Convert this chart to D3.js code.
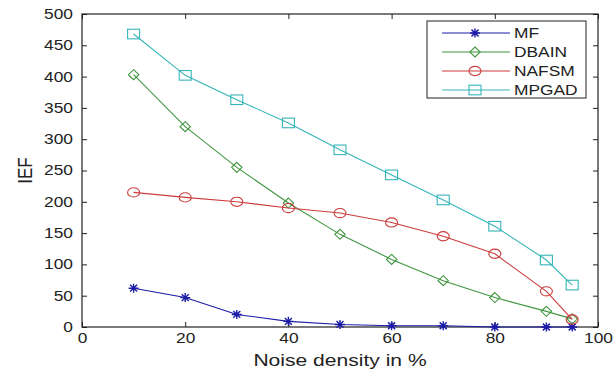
<!DOCTYPE html>
<html><head><meta charset="utf-8">
<script src="https://d3js.org/d3.v7.min.js"></script>
<style>body{margin:0;background:#fff;}svg{display:block;font-family:"Liberation Sans",Arial,sans-serif;}</style>
</head><body>
<svg id="c" width="615" height="373"></svg>
<script>
const noise = [10,20,30,40,50,60,70,80,90,95];
const MF    = [62,47,20,9,4,2,2,0,0,0];
const DBAIN = [403,320,255,198,148,108,74,47,25,13];
const NAFSM = [215,207,200,190,182,167,145,117,57,12];
const MPGAD = [468,402,363,326,283,243,203,161,107,67];
const seriesNames = ["MF","DBAIN","NAFSM","MPGAD"];
const seriesData = [MF,DBAIN,NAFSM,MPGAD];
const seriesColors = ["#1c1ca8","#409640","#cc3c3c","#35b4b8"];
const seriesMarkers = ["star","diamond","circle","square"];
const xTicks = [0,20,40,60,80,100];
const yTicks = [0,50,100,150,200,250,300,350,400,450,500];

const SX = 1.24; // horizontal stretch of text, as in the reference
const svg = d3.select("#c");
const L=82,R=598,T=14,B=327;
const x = d3.scaleLinear().domain([0,100]).range([L,R]);
const y = d3.scaleLinear().domain([0,500]).range([B,T]);

svg.append("rect").attr("x",L).attr("y",T).attr("width",R-L).attr("height",B-T)
  .attr("fill","none").attr("stroke","#222").attr("stroke-width",1.2);

function styleAxis(g){
  g.select(".domain").remove();
  g.selectAll(".tick line").attr("stroke","#222");
  g.selectAll(".tick text").attr("fill","#222").attr("font-size","14px")
    .attr("font-family","Liberation Sans, Arial, sans-serif");
}
svg.append("g").attr("transform",`translate(0,${B})`)
  .call(d3.axisBottom(x).tickValues(xTicks).tickSize(-5).tickPadding(6)).call(styleAxis)
  .selectAll(".tick text").attr("transform",`scale(${SX},1)`);
svg.append("g").attr("transform",`translate(0,${T})`)
  .call(d3.axisTop(x).tickValues(xTicks).tickSize(-5).tickFormat("")).call(styleAxis);
svg.append("g").attr("transform",`translate(${L},0)`)
  .call(d3.axisLeft(y).tickValues(yTicks).tickSize(-5).tickPadding(9)).call(styleAxis)
  .selectAll(".tick text").attr("x",-9/SX).attr("transform",`scale(${SX},1)`);
svg.append("g").attr("transform",`translate(${R},0)`)
  .call(d3.axisRight(y).tickValues(yTicks).tickSize(-5).tickFormat("")).call(styleAxis);

svg.append("text").attr("transform",`translate(${(L+R)/2},366) scale(${SX},1)`).attr("text-anchor","middle")
  .attr("font-size","17px").attr("fill","#222").text("Noise density in %");
svg.append("text").attr("transform",`translate(32,${(T+B)/2}) scale(${SX},1) rotate(-90)`).attr("text-anchor","middle")
  .attr("font-size","17px").attr("fill","#222").text("IEF");

function marker(g, type, cx, cy, color){
  if(type==="star"){
    const sx=5, sy=4.5;
    const p=`M${cx-sx},${cy}L${cx+sx},${cy}M${cx},${cy-sy}L${cx},${cy+sy}M${cx-sx*0.7},${cy-sy*0.75}L${cx+sx*0.7},${cy+sy*0.75}M${cx-sx*0.7},${cy+sy*0.75}L${cx+sx*0.7},${cy-sy*0.75}`;
    g.append("path").attr("d",p).attr("stroke",color).attr("stroke-width",1.4).attr("fill","none");
  } else if(type==="diamond"){
    const sx=5.2, sy=5;
    g.append("path").attr("d",`M${cx},${cy-sy}L${cx+sx},${cy}L${cx},${cy+sy}L${cx-sx},${cy}Z`)
      .attr("stroke",color).attr("fill","none").attr("stroke-width",1.1);
  } else if(type==="circle"){
    g.append("ellipse").attr("cx",cx).attr("cy",cy).attr("rx",6).attr("ry",4.6)
      .attr("stroke",color).attr("fill","none").attr("stroke-width",1.1);
  } else {
    const sx=6, sy=4.8;
    g.append("rect").attr("x",cx-sx).attr("y",cy-sy).attr("width",2*sx).attr("height",2*sy)
      .attr("stroke",color).attr("fill","none").attr("stroke-width",1.1);
  }
}

const line = d3.line().x((d,i)=>x(noise[i])).y(d=>y(d));
seriesData.forEach((vals,k)=>{
  const g = svg.append("g");
  g.append("path").attr("d",line(vals)).attr("fill","none")
    .attr("stroke",seriesColors[k]).attr("stroke-width",1.1);
  vals.forEach((v,i)=>marker(g,seriesMarkers[k],x(noise[i]),y(v),seriesColors[k]));
});

// legend
const lg = svg.append("g");
lg.append("rect").attr("x",427).attr("y",21).attr("width",159).attr("height",77)
  .attr("fill","#fff").attr("stroke","#222").attr("stroke-width",1);
seriesNames.forEach((n,k)=>{
  const yy = 33 + k*19;
  lg.append("line").attr("x1",442).attr("x2",510).attr("y1",yy).attr("y2",yy)
    .attr("stroke",seriesColors[k]).attr("stroke-width",1.1);
  marker(lg,seriesMarkers[k],475,yy,seriesColors[k]);
  lg.append("text").attr("transform",`translate(514,${yy+5}) scale(${SX},1)`)
    .attr("font-size","14px").attr("fill","#222").text(n);
});
</script>
</body></html>
